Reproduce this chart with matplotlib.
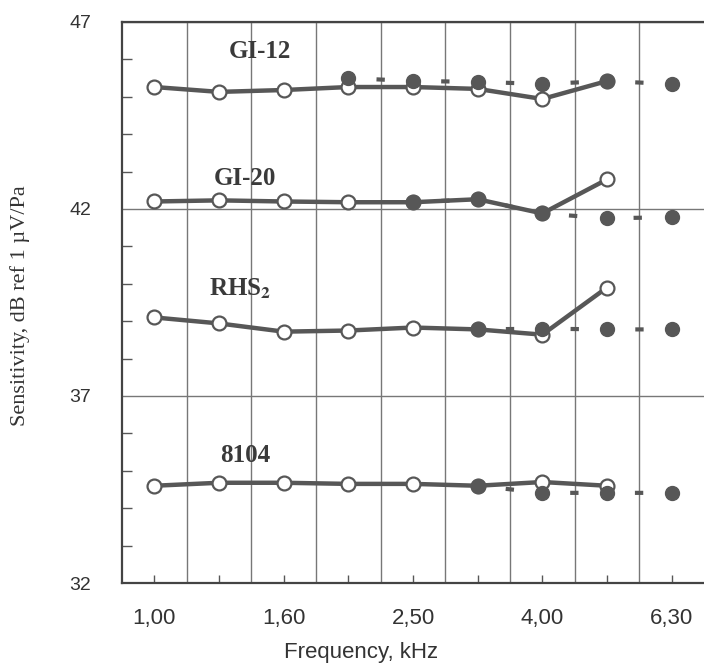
import numpy as np
import matplotlib
matplotlib.use("Agg")
import matplotlib.pyplot as plt

plt.rcParams["lines.scale_dashes"] = False
plt.rcParams["mathtext.fontset"] = "stix"

# third-octave band centres, kHz (every band gets a slot, every second one a label)
freqs = ["1,00", "1,25", "1,60", "2,00", "2,50", "3,15", "4,00", "5,00", "6,30"]

# solid line, open circles: bands 1,00 ... 5,00
gi12_a = [45.26, 45.13, 45.18, 45.26, 45.26, 45.21, 44.94, 45.42]
gi20_a = [42.20, 42.23, 42.20, 42.18, 42.18, 42.26, 41.88, 42.79]
rhs_a = [39.10, 38.94, 38.72, 38.75, 38.83, 38.78, 38.64, 39.90]
m8104_a = [34.60, 34.68, 34.68, 34.65, 34.65, 34.60, 34.70, 34.60]

# dashed line, filled circles: from the given band up to 6,30
gi12_b_from, gi12_b = "2,00", [45.50, 45.42, 45.40, 45.34, 45.42, 45.34]
gi20_b_from, gi20_b = "2,50", [42.18, 42.26, 41.88, 41.75, 41.78]
rhs_b_from, rhs_b = "3,15", [38.78, 38.80, 38.78, 38.78]
m8104_b_from, m8104_b = "3,15", [34.60, 34.41, 34.41, 34.41]

labels = ["GI-12", "GI-20", r"RHS$_\mathbf{2}$", "8104"]
label_pos = [(1.63, 46.2), (1.40, 42.82), (1.32, 39.87), (1.40, 35.4)]

GREY = "#575757"
pos = np.arange(len(freqs))

fig = plt.figure(figsize=(7.04, 6.65), dpi=100)
ax = fig.add_axes([0.1733, 0.1233, 0.8267, 0.8437])

series = [(gi12_a, gi12_b_from, gi12_b), (gi20_a, gi20_b_from, gi20_b),
          (rhs_a, rhs_b_from, rhs_b), (m8104_a, m8104_b_from, m8104_b)]
for a, b_from, b in series:
    ax.plot(pos[:len(a)], a, "-", color=GREY, lw=3.2, marker="o", ms=10,
            mfc="white", mec=GREY, mew=1.6, zorder=3)
    i0 = freqs.index(b_from)
    ax.plot(pos[i0:i0 + len(b)], b, color=GREY, lw=3.0, ls=(3, (6, 17.3)),
            marker="o", ms=10, mfc=GREY, mec=GREY, zorder=4)

for txt, (x, y) in zip(labels, label_pos):
    ax.text(x, y, txt, ha="center", va="center", fontsize=18, fontweight="bold",
            family="Liberation Serif", color="#3a3a3a")

ax.set_xlim(-0.5, 8.5)
ax.set_ylim(32, 47)
ax.set_xticks(pos)
ax.set_xticklabels([f if i % 2 == 0 else "" for i, f in enumerate(freqs)],
                   family="Liberation Sans", fontsize=16, color="#333333")
ax.set_xticks(pos[:-1] + 0.5, minor=True)
ax.set_yticks([32, 37, 42, 47])
ax.set_yticklabels(["32", "37", "42", "47"], family="Liberation Sans",
                   fontsize=14, color="#333333")
ax.set_yticks(np.arange(33, 47), minor=True)
ax.tick_params(axis="x", which="major", direction="in", length=6, width=1,
               color=GREY, pad=18)
ax.tick_params(axis="x", which="minor", length=0)
ax.tick_params(axis="y", which="major", length=0, pad=22)
ax.tick_params(axis="y", which="minor", direction="in", length=7, width=1,
               color=GREY)
ax.grid(True, axis="x", which="minor", color="#777777", lw=1)
ax.grid(True, axis="y", which="major", color="#777777", lw=1)
ax.set_axisbelow(True)

for side in ("left", "bottom", "top"):
    ax.spines[side].set_color("#444444")
    ax.spines[side].set_linewidth(1.6)
ax.spines["right"].set_visible(False)

ax.set_xlabel("Frequency, kHz", family="Liberation Sans", fontsize=16,
              color="#333333")
ax.xaxis.set_label_coords(0.41, -0.105)
ax.set_ylabel("Sensitivity, dB ref 1 µV/Pa", family="Liberation Serif",
              fontsize=16, color="#333333")
ax.yaxis.set_label_coords(-0.158, 0.495)

fig.savefig("out.png", dpi=100)
